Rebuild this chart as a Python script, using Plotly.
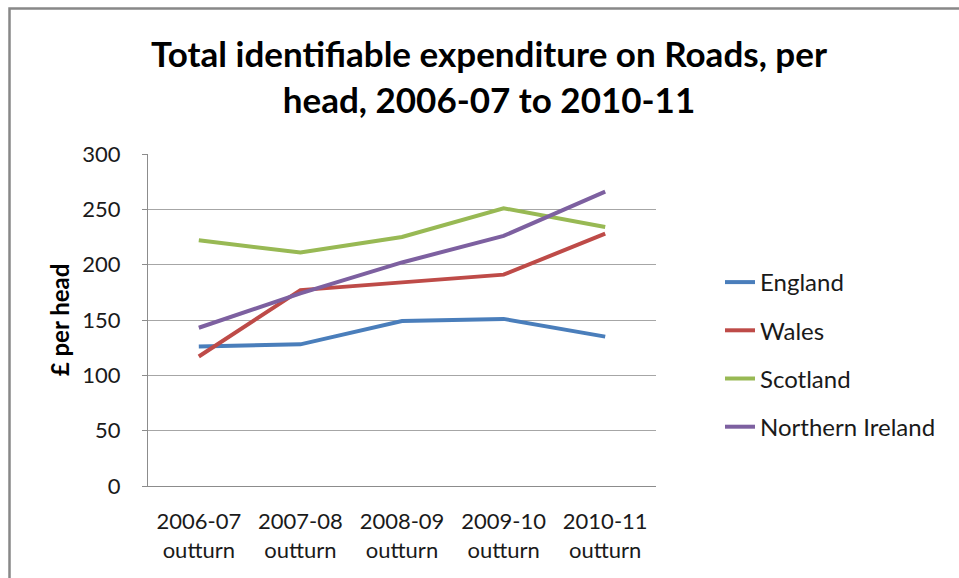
import plotly.graph_objects as go

categories = ["2006-07<br>outturn", "2007-08<br>outturn", "2008-09<br>outturn",
              "2009-10<br>outturn", "2010-11<br>outturn"]
england = [126, 128, 149, 151, 135]
wales = [117, 177, 184, 191, 228]
scotland = [222, 211, 225, 251, 234]
northern_ireland = [143, 174, 202, 226, 266]
y_ticks = [0, 50, 100, 150, 200, 250, 300]

series = [
    ("England", england, "#4a7ebb"),
    ("Wales", wales, "#be4b48"),
    ("Scotland", scotland, "#98b954"),
    ("Northern Ireland", northern_ireland, "#7d60a0"),
]

FONT = "Lato, 'Open Sans', sans-serif"

fig = go.Figure()
for i, (name, vals, col) in enumerate(series):
    fig.add_trace(go.Scatter(
        x=categories, y=vals, name=name, mode="lines",
        line=dict(color=col, width=4),
        legendgroup=f"g{i}",
    ))

W, H = 959, 578
L, PR, T, PB = 148, 656, 154, 486
R, B = W - PR, H - PB
PW, PH = PR - L, PB - T

fig.update_layout(
    width=W, height=H,
    margin=dict(l=L, r=R, t=T, b=B, autoexpand=False),
    paper_bgcolor="white", plot_bgcolor="white",
    font=dict(family=FONT, size=22, color="#1a1a1a"),
    title=dict(
        text="Total identifiable expenditure on Roads, per<br>head, 2006-07 to 2010-11",
        font=dict(family=FONT, size=35, color="black", weight="bold"),
        x=489 / W, xanchor="center", xref="container",
        y=1 - 67 / H, yanchor="middle", yref="container",
    ),
    xaxis=dict(
        type="category", range=[-0.5, 4.5],
        showline=True, linecolor="#8c8c8c", linewidth=1,
        showgrid=False, ticks="", tickfont=dict(size=22, color="#1a1a1a"),
        ticklabelstandoff=16,
    ),
    yaxis=dict(
        range=[0, 300], tickvals=y_ticks,
        showline=True, linecolor="#8c8c8c", linewidth=1,
        showgrid=True, gridcolor="#a6a6a6", gridwidth=1,
        ticks="outside", ticklen=5, tickcolor="#8c8c8c",
        ticklabelstandoff=17,
        tickfont=dict(size=22, color="#1a1a1a"),
        title=dict(text="£ per head", font=dict(size=24, color="black", weight="bold"),
                   standoff=5),
        zeroline=False,
    ),
    legend=dict(
        x=(720 - L) / PW, xanchor="left", y=(PB - 260) / PH, yanchor="top",
        font=dict(size=24, color="#1a1a1a"),
        tracegroupgap=14, bgcolor="rgba(0,0,0,0)",
    ),
    showlegend=True,
)

# outer chart border: only left and top edges are visible in the picture
bx0 = (9.5 - L) / PW
bx1 = (W + 20 - L) / PW
by_top = (PB - 8.5) / PH
by_bot = (PB - (H + 20)) / PH
fig.add_shape(
    type="path", xref="paper", yref="paper",
    path=f"M {bx0},{by_bot} L {bx0},{by_top} L {bx1},{by_top}",
    line=dict(color="#888888", width=2.5), layer="below",
)

fig.write_html(
    "out.html",
    config={"displayModeBar": False},
    post_script="document.body.style.margin='0';document.body.style.overflow='hidden';",
)
